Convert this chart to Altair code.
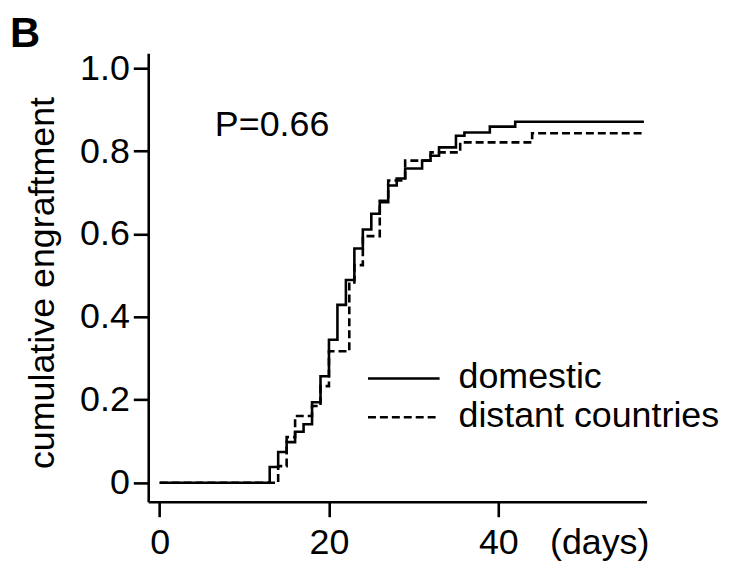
import altair as alt
import pandas as pd

# ---- data ----
series_names = ["domestic", "distant countries"]

dom_days = [0, 13, 14, 15, 16, 17, 18, 19, 20, 21, 22, 23, 24, 25, 26, 27, 28, 29, 31, 32, 33, 35, 36, 39, 42, 57.2]
dom_vals = [0, 0.038, 0.074, 0.098, 0.123, 0.141, 0.194, 0.257, 0.345, 0.429, 0.489, 0.565, 0.611, 0.649, 0.677,
            0.717, 0.734, 0.758, 0.777, 0.789, 0.809, 0.837, 0.845, 0.859, 0.871, 0.871]

dis_days = [0, 14, 15, 16, 18, 19, 20, 22.4, 23, 24, 26, 27, 29, 32, 35.5, 44, 57.2]
dis_vals = [0, 0.040, 0.110, 0.161, 0.185, 0.233, 0.317, 0.480, 0.525, 0.595, 0.680, 0.729, 0.777, 0.797,
            0.821, 0.843, 0.843]

x_ticks = [0, 20, 40]
y_ticks = [0, 0.2, 0.4, 0.6, 0.8, 1.0]
x_unit_label = "(days)"
y_title = "cumulative engraftment"
p_label = "P=0.66"
panel_label = "B"

df = pd.concat([
    pd.DataFrame({"day": dom_days, "value": dom_vals, "series": series_names[0]}),
    pd.DataFrame({"day": dis_days, "value": dis_vals, "series": series_names[1]}),
], ignore_index=True)

FONT = "Liberation Sans"
FS = 36
W, H = 501, 451
LW = 2.6

x_scale = alt.Scale(domain=[-1.35, 57.5], nice=False, zero=False)
y_scale = alt.Scale(domain=[-0.046, 1.036], nice=False, zero=False)

lines = alt.Chart(df).mark_line(interpolate="step-after", color="black", strokeWidth=LW).encode(
    x=alt.X("day:Q", scale=x_scale,
            axis=alt.Axis(values=x_ticks, title=None, labelFlush=False, labelPadding=9,
                          format="d")),
    y=alt.Y("value:Q", scale=y_scale,
            axis=alt.Axis(values=y_ticks, title=None, labelFlush=False, labelPadding=4,
                          labelExpr="datum.value == 0 ? '0' : format(datum.value, '.1f')")),
    strokeDash=alt.StrokeDash("series:N",
                              scale=alt.Scale(domain=series_names, range=[[1, 0], [8, 4]]),
                              legend=None),
    detail="series:N",
)

def txt(s, x, y, **kw):
    return alt.Chart(pd.DataFrame({"t": [s]})).mark_text(
        font=FONT, fontSize=kw.pop("fontSize", FS), color="black", **kw
    ).encode(text="t:N", x=alt.value(x), y=alt.value(y))

p_text = txt(p_label, 67, 83, align="left", baseline="alphabetic")
days_text = txt(x_unit_label, 404, 475, align="left", baseline="top")
ytitle = txt(y_title, -106, 231, align="center", baseline="middle", angle=270)
b_text = txt(panel_label, -139, -6, align="left", baseline="alphabetic", fontWeight="bold", fontSize=42)

leg_layers = []
leg_line_y = [327, 366]
leg_text_y = [337, 376]
for i, name in enumerate(series_names):
    dash = [1, 0] if i == 0 else [8, 4]
    leg_layers.append(
        alt.Chart(pd.DataFrame({"t": [name]})).mark_rule(color="black", strokeWidth=LW, strokeDash=dash)
        .encode(x=alt.value(221), x2=alt.value(293), y=alt.value(leg_line_y[i]))
    )
    leg_layers.append(txt(name, 312, leg_text_y[i], align="left", baseline="alphabetic"))

chart = alt.layer(lines, p_text, days_text, ytitle, b_text, *leg_layers).properties(
    width=W, height=H,
    padding={"left": 141, "top": 44, "right": 80, "bottom": 60},
    autosize=alt.AutoSizeParams(type="none"),
    background="white",
).configure_view(stroke=None).configure_axis(
    domainColor="black", domainWidth=LW, tickColor="black", tickWidth=LW, tickSize=15,
    labelFont=FONT, labelFontSize=FS, labelColor="black", grid=False,
)

chart.save("out.html", embed_options={"renderer": "svg", "actions": False})
